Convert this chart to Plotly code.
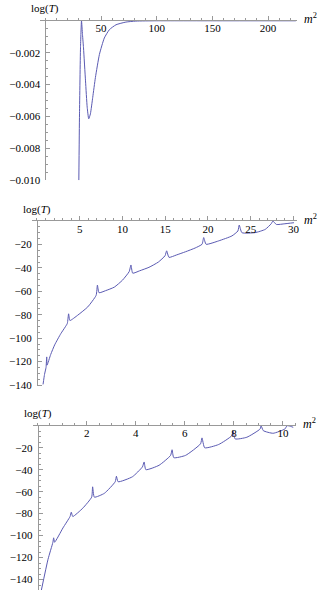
import plotly.graph_objects as go

W, H = 334, 599

# パネル1
p1_m2 = [30.0, 30.6, 31.5, 32.4, 33.3, 34.2, 36.0, 37.5, 38.9, 40.4, 42.5, 44.9,
         48.5, 52.9, 57.4, 63.4, 72.3, 81.2, 100, 150, 225]
p1_logT = [-0.0100, -0.00584, -0.0017, 0.0, -0.00087, -0.0017, -0.00377, -0.00542,
           -0.00615, -0.00584, -0.0048, -0.00356, -0.00211, -0.00108, -0.00056,
           -0.00025, -0.00008, -0.00002, 0.0, 0.0, 0.0]

# パネル2
p2_m2 = [0.71, 0.88, 1.06, 1.14, 1.18, 1.6, 2.07, 2.8, 3.3, 3.55, 3.70, 3.85, 4.78,
         5.94, 6.92, 7.07, 7.26, 8.0, 9.05, 10.0, 10.79, 10.99, 11.2, 12.0, 13.1,
         14.2, 14.98, 15.17, 15.44, 16.3, 17.38, 18.5, 19.31, 19.5, 19.78, 21.26,
         22.8, 23.5, 23.66, 23.97, 25.5, 26.7, 27.4, 27.6, 28.0, 29.0, 30.06]
p2_logT = [-139.5, -131, -125, -116, -123, -114, -105.7, -96, -90.5, -87.4, -79.2,
           -84.9, -80.3, -73.3, -63.4, -54.7, -61.2, -59.5, -56.4, -50.5, -43.1,
           -37.5, -44.5, -42.5, -39.5, -35, -29.6, -25.4, -31.0, -29, -26.2, -23,
           -19.8, -14.1, -19.8, -16.9, -12.7, -8.5, -3.4, -9.9, -9.9, -7.1, -2.3,
           0.0, -2.9, -2.3, -1.4]

# パネル3
p3_m2 = [0.15, 0.42, 0.62, 0.65, 0.69, 1.03, 1.32, 1.37, 1.43, 1.84, 2.20, 2.24,
         2.31, 2.72, 3.16, 3.21, 3.28, 3.86, 4.27, 4.34, 4.41, 4.95, 5.42, 5.48,
         5.55, 6.03, 6.64, 6.70, 6.81, 7.38, 7.92, 7.96, 8.05, 8.53, 9.07, 9.11,
         9.20, 9.6, 10.08, 10.17, 10.3, 10.42]
p3_logT = [-149.5, -121.6, -106, -102, -106, -93, -82.6, -78.7, -82.6, -75, -65,
           -55.6, -65, -61.5, -51, -46, -51, -46.5, -37.5, -33, -40, -36, -27,
           -21.9, -29.1, -27, -16.5, -11.1, -20.1, -17.1, -9, -4.5, -12, -10.5,
           -3, 0.0, -4.5, -6.9, -3, 0.0, -0.5, -1.5]

p1_xticks = [50, 100, 150, 200]
p1_yticks = [-0.002, -0.004, -0.006, -0.008, -0.010]
p1_ytext = ["\u22120.002", "\u22120.004", "\u22120.006", "\u22120.008", "\u22120.010"]
p2_xticks = [5, 10, 15, 20, 25, 30]
p2_yticks = [-20, -40, -60, -80, -100, -120, -140]
p3_xticks = [2, 4, 6, 8, 10]
p3_yticks = [-20, -40, -60, -80, -100, -120, -140]

LINE_COLOR = "#5a5ab2"
AXIS_COLOR = "#999999"
FONT = "Times New Roman, Liberation Serif, serif"

# パネル毎の配置（px）と範囲・目盛
panels = [
    dict(x=p1_m2, y=p1_logT, left=40, right=299, top=21, bottom=182,
         xr=[-5.1, 226.2], yr=[-0.0100, 0.0], x0px=45.7,
         xt=p1_xticks, xtt=[str(v) for v in p1_xticks], xminor=10,
         yt=p1_yticks, ytt=p1_ytext, yminor=0.0005),
    dict(x=p2_m2, y=p2_logT, left=32.3, right=299, top=223.3, bottom=390.1,
         xr=[-0.57, 30.44], yr=[-141, 0], x0px=37.2,
         xt=p2_xticks, xtt=[str(v) for v in p2_xticks], xminor=1,
         yt=p2_yticks, ytt=["\u2212" + str(-v) for v in p2_yticks], yminor=5),
    dict(x=p3_m2, y=p3_logT, left=33, right=297.7, top=430, bottom=596,
         xr=[-0.2, 10.53], yr=[-149.5, 0], x0px=38,
         xt=p3_xticks, xtt=[str(v) for v in p3_xticks], xminor=0.5,
         yt=p3_yticks, ytt=["\u2212" + str(-v) for v in p3_yticks], yminor=5),
]

fig = go.Figure()
layout = {}
annotations = []

for n, p in enumerate(panels, start=1):
    sfx = "" if n == 1 else str(n)
    fig.add_trace(go.Scatter(
        x=p["x"], y=p["y"], mode="lines",
        line=dict(color=LINE_COLOR, width=1, shape="spline", smoothing=0.5),
        xaxis="x" + sfx, yaxis="y" + sfx, showlegend=False,
    ))
    layout["xaxis" + sfx] = dict(
        domain=[p["left"] / W, p["right"] / W],
        range=p["xr"], anchor="y" + sfx, side="top",
        showline=True, linecolor=AXIS_COLOR, linewidth=1,
        showgrid=False, zeroline=False,
        tickmode="array", tickvals=p["xt"], ticktext=p["xtt"],
        ticks="outside", ticklen=4, tickcolor=AXIS_COLOR, tickwidth=1,
        ticklabelposition="inside", ticklabelstandoff=3, ticklabeloverflow="allow",
        tickfont=dict(family=FONT, size=11, color="black"),
        minor=dict(tickmode="linear", tick0=0, dtick=p["xminor"],
                   ticks="outside", ticklen=2, tickcolor=AXIS_COLOR, showgrid=False),
    )
    layout["yaxis" + sfx] = dict(
        domain=[1 - p["bottom"] / H, 1 - p["top"] / H],
        range=p["yr"], anchor="free", position=p["x0px"] / W,
        showline=True, linecolor=AXIS_COLOR, linewidth=1,
        showgrid=False, zeroline=False,
        tickmode="array", tickvals=p["yt"], ticktext=p["ytt"],
        ticks="inside", ticklen=4, tickcolor=AXIS_COLOR, tickwidth=1,
        ticklabelstandoff=3,
        tickfont=dict(family=FONT, size=11, color="black"),
        minor=dict(tickmode="linear", tick0=0, dtick=p["yminor"],
                   ticks="inside", ticklen=2, tickcolor=AXIS_COLOR, showgrid=False),
    )
    annotations.append(dict(
        x=p["x0px"] / W, y=1 - (p["top"] - 12) / H, xref="paper", yref="paper",
        text="log(<i>T</i>)", showarrow=False, xanchor="center", yanchor="middle",
        font=dict(family=FONT, size=11, color="black"),
    ))
    annotations.append(dict(
        x=(p["right"] + 5) / W, y=1 - (p["top"] - 2) / H, xref="paper", yref="paper",
        text="<i>m</i><sup>2</sup>", showarrow=False, xanchor="left", yanchor="middle",
        font=dict(family=FONT, size=12, color="black"),
    ))

fig.update_layout(
    width=W, height=H,
    margin=dict(l=0, r=0, t=0, b=0),
    paper_bgcolor="white", plot_bgcolor="white",
    annotations=annotations,
    **layout,
)

# ページ余白を消す
fig.write_html("out.html", config={"displayModeBar": False},
               post_script="document.body.style.margin='0px';")
